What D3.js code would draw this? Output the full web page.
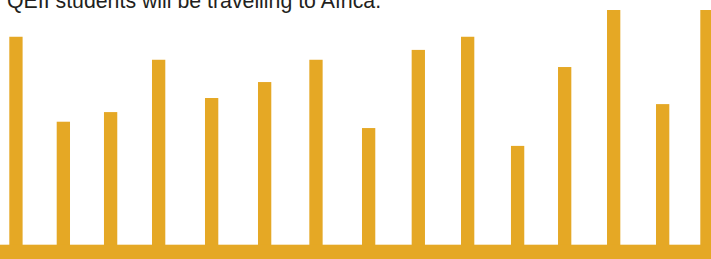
<!DOCTYPE html>
<html>
<head>
<meta charset="utf-8">
<script src="https://cdn.jsdelivr.net/npm/d3@7"></script>
<style>
  body { margin: 0; background: #fff; }
  svg { display: block; }
</style>
</head>
<body>
<script>
// caption text (top of it is cut off in the picture)
var caption = "QEII students will be travelling to Africa.";

// bar positions along the axis (irregular spacing)
var positions = [0, 6.86, 13.7, 20.65, 28.32, 35.99, 43.42, 51.04, 58.23, 65.37, 72.6, 79.41, 86.5, 93.59, 100];
// bar values (percent of the tallest)
var values = [88.6, 52.4, 56.5, 78.8, 62.5, 69.3, 78.8, 49.7, 83.0, 88.6, 42.1, 75.7, 100, 59.9, 100];

var width = 711,
    height = 259,
    baseY = 244.7,
    barW = 13.3;

var svg = d3.select("body").append("svg")
    .attr("width", width)
    .attr("height", height);

var x = d3.scaleLinear()
    .domain([0, 100])
    .range([9.3, 700.3]);

var y = d3.scaleLinear()
    .domain([0, 100])
    .range([baseY, 10]);

svg.append("text")
    .attr("x", 7)
    .attr("y", 7.5)
    .style("font-family", "'Liberation Sans', Arial, sans-serif")
    .style("font-size", "21.3px")
    .style("fill", "#231f20")
    .text(caption);

svg.selectAll(".bar")
    .data(values)
  .enter().append("rect")
    .attr("class", "bar")
    .attr("x", function(d, i) { return x(positions[i]); })
    .attr("width", barW)
    .attr("y", function(d) { return y(d); })
    .attr("height", function(d) { return baseY - y(d) + 2; })
    .style("fill", "#e5a825");

// thick base line
svg.append("rect")
    .attr("x", 0)
    .attr("y", baseY)
    .attr("width", width)
    .attr("height", height - baseY)
    .style("fill", "#e5a825");
</script>
</body>
</html>
